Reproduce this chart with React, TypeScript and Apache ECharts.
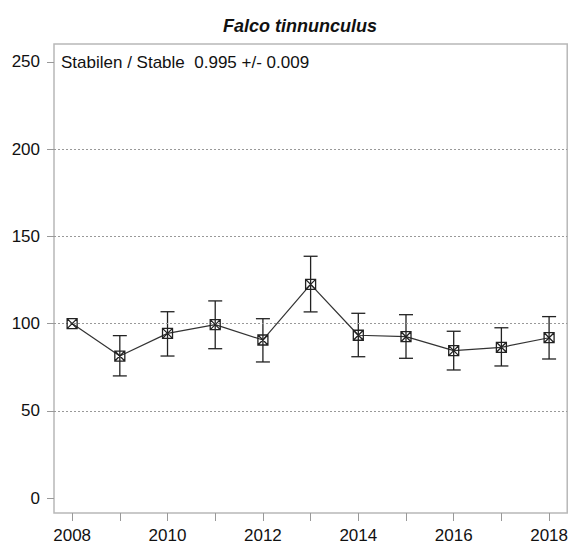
import React, { useEffect, useRef } from "react";
import * as echarts from "echarts";

const years = [2008, 2009, 2010, 2011, 2012, 2013, 2014, 2015, 2016, 2017, 2018];
const index = [100, 81.4, 94.4, 99.4, 90.6, 122.5, 93.3, 92.5, 84.5, 86.4, 91.9];
const upper = [null, 93.1, 106.8, 113, 102.8, 138.6, 105.9, 105.1, 95.6, 97.6, 104];
const lower = [null, 70, 81.4, 85.6, 78, 106.7, 81, 80.1, 73.4, 75.7, 79.7];
const yTicks = [0, 50, 100, 150, 200, 250];
const xTickYears = [2008, 2009, 2010, 2011, 2012, 2013, 2014, 2015, 2016, 2017, 2018];
const xLabelYears = [2008, 2010, 2012, 2014, 2016, 2018];
const gridLines = [50, 100, 150, 200];
const title = "Falco tinnunculus";
const note = "Stabilen / Stable  0.995 +/- 0.009";

const FONT = "Liberation Sans, Arial, sans-serif";

export default function App() {
  const ref = useRef<HTMLDivElement>(null);
  useEffect(() => {
    if (!ref.current) return;
    const chart = echarts.init(ref.current, null, { renderer: "svg" });
    const lineData = years.map((y, i) => [y, index[i]]);
    const errData = years
      .map((y, i) => [y, lower[i], upper[i]])
      .filter((d) => d[1] != null && d[2] != null);
    chart.setOption({
      animation: false,
      backgroundColor: "#fff",
      title: {
        text: title,
        left: 295,
        textAlign: "center",
        top: 12,
        textStyle: {
          fontFamily: FONT,
          fontSize: 18,
          fontWeight: "bold",
          fontStyle: "italic",
          color: "#111",
        },
      },
      graphic: [
        {
          type: "text",
          left: 61,
          top: 54,
          style: { text: note, font: `17px ${FONT}`, fill: "#111" },
        },
      ],
      grid: {
        left: 54,
        right: 2,
        top: 44,
        bottom: 31,
        show: true,
        borderColor: "#b8b8b8",
        borderWidth: 1.5,
        backgroundColor: "transparent",
      },
      xAxis: {
        type: "value",
        min: 2007.62,
        max: 2018.38,
        axisLine: { show: false, onZero: false },
        splitLine: { show: false },
        axisTick: {
          show: true,
          length: 8,
          lineStyle: { color: "#999", width: 1 },
          customValues: xTickYears,
        },
        axisLabel: {
          customValues: xLabelYears,
          margin: 14,
          color: "#111",
          fontFamily: FONT,
          fontSize: 17,
          formatter: (v: number) => String(Math.round(v)),
        },
      },
      yAxis: {
        type: "value",
        min: -8.6,
        max: 260.3,
        axisLine: { show: false, onZero: false },
        splitLine: { show: false },
        axisTick: {
          show: true,
          length: 7,
          lineStyle: { color: "#999", width: 1 },
          customValues: yTicks,
        },
        axisLabel: {
          customValues: yTicks,
          margin: 14,
          color: "#111",
          fontFamily: FONT,
          fontSize: 17,
        },
      },
      series: [
        {
          type: "line",
          data: lineData,
          symbol: "path://M0,0 L10,0 L10,10 L0,10 Z M0,0 L10,10 M10,0 L0,10",
          symbolSize: 10,
          lineStyle: { color: "#333", width: 1.2 },
          itemStyle: { color: "transparent", borderColor: "#222", borderWidth: 1.3 },
          z: 5,
          markLine: {
            silent: true,
            symbol: "none",
            label: { show: false },
            lineStyle: { color: "#999", type: [2, 2], width: 1 },
            data: gridLines.map((v) => ({ yAxis: v })),
          },
        },
        {
          type: "custom",
          data: errData,
          z: 4,
          renderItem: (params: any, api: any) => {
            const x = api.value(0);
            const lo = api.coord([x, api.value(1)]);
            const hi = api.coord([x, api.value(2)]);
            const w = 7;
            const style = { stroke: "#222", lineWidth: 1.3 };
            return {
              type: "group",
              children: [
                { type: "line", shape: { x1: lo[0], y1: lo[1], x2: hi[0], y2: hi[1] }, style },
                { type: "line", shape: { x1: hi[0] - w, y1: hi[1], x2: hi[0] + w, y2: hi[1] }, style },
                { type: "line", shape: { x1: lo[0] - w, y1: lo[1], x2: lo[0] + w, y2: lo[1] }, style },
              ],
            };
          },
        },
      ],
    });
    return () => chart.dispose();
  }, []);
  return (
    <div
      ref={ref}
      style={{ position: "fixed", left: 0, top: 0, width: 571, height: 544 }}
    />
  );
}
